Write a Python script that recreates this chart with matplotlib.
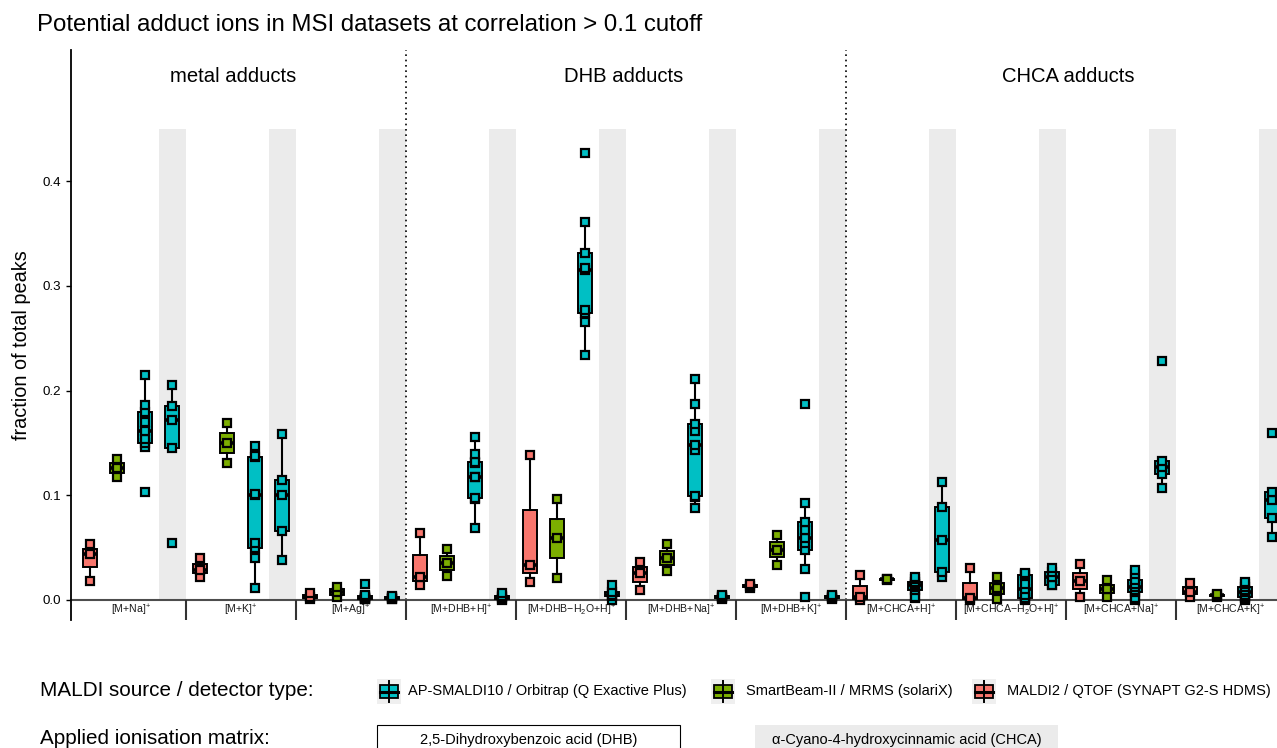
import matplotlib
matplotlib.use("Agg")
import matplotlib.pyplot as plt
from matplotlib.patches import Rectangle
from matplotlib.lines import Line2D
import numpy as np

plt.rcParams['font.family'] = ['Liberation Sans', 'DejaVu Sans']
plt.rcParams['mathtext.fontset'] = 'custom'
plt.rcParams['mathtext.rm'] = 'Liberation Sans'
plt.rcParams['mathtext.it'] = 'Liberation Sans:italic'
plt.rcParams['mathtext.bf'] = 'Liberation Sans:bold'

# ---------------- data ----------------
adducts = [r"[M+Na]$^{+}$", r"[M+K]$^{+}$", r"[M+Ag]$^{+}$",
           r"[M+DHB+H]$^{+}$", r"[M+DHB−H$_{2}$O+H]$^{+}$", r"[M+DHB+Na]$^{+}$", r"[M+DHB+K]$^{+}$",
           r"[M+CHCA+H]$^{+}$", r"[M+CHCA−H$_{2}$O+H]$^{+}$", r"[M+CHCA+Na]$^{+}$", r"[M+CHCA+K]$^{+}$"]
facet_names = ["metal adducts", "DHB adducts", "CHCA adducts"]
facet_sizes = [3, 4, 4]

source_labels = ["AP-SMALDI10 / Orbitrap (Q Exactive Plus)",
                 "SmartBeam-II / MRMS (solariX)",
                 "MALDI2 / QTOF (SYNAPT G2-S HDMS)"]
matrix_labels = ["2,5-Dihydroxybenzoic acid (DHB)", "α-Cyano-4-hydroxycinnamic acid (CHCA)"]

maldi2_dhb = [
    [0.0185, 0.044, 0.0535],
    [0.0223, 0.029, 0.0398],
    [0.001, 0.003, 0.007],
    [0.0143, 0.0223, 0.0637],
    [0.0175, 0.0334, 0.1385],
    [0.0096, 0.0255, 0.0366],
    [0.0115, 0.013, 0.015],
    [0.0, 0.0026, 0.024],
    [0.0, 0.0016, 0.0303],
    [0.0032, 0.0181, 0.0344],
    [0.0026, 0.008, 0.0166],
]
smartbeam_dhb = [
    [0.117, 0.1258, 0.135],
    [0.1305, 0.1497, 0.1694],
    [0.003, 0.0075, 0.0127],
    [0.0229, 0.035, 0.0484],
    [0.0207, 0.0589, 0.0961],
    [0.0277, 0.0398, 0.0535],
    [0.0334, 0.0478, 0.0621],
    [0.019, 0.020, 0.0205],
    [0.0006, 0.0111, 0.0223],
    [0.0032, 0.0102, 0.0191],
    [0.003, 0.0045, 0.0055],
]
apsmaldi_dhb = [
    [0.103, 0.146, 0.1497, 0.154, 0.1617, 0.170, 0.1793, 0.186, 0.215],
    [0.011, 0.040, 0.0494, 0.054, 0.1003, 0.101, 0.1363, 0.137, 0.147],
    [0.0005, 0.001, 0.001, 0.0015, 0.002, 0.003, 0.004, 0.005, 0.0153],
    [0.0685, 0.0961, 0.0971, 0.1172, 0.1178, 0.1305, 0.1321, 0.1394, 0.1554],
    [0.234, 0.265, 0.2738, 0.277, 0.3152, 0.3168, 0.3317, 0.3607, 0.4266],
    [0.0876, 0.0985, 0.0993, 0.1433, 0.148, 0.1617, 0.1678, 0.1869, 0.2108],
    [0.003, 0.0293, 0.0478, 0.0541, 0.0589, 0.0669, 0.0748, 0.093, 0.1869],
    [0.002, 0.003, 0.0096, 0.012, 0.0143, 0.015, 0.0175, 0.020, 0.0223],
    [0.0, 0.0006, 0.0016, 0.005, 0.0102, 0.015, 0.0239, 0.0245, 0.0255],
    [0.0, 0.002, 0.008, 0.010, 0.012, 0.015, 0.019, 0.025, 0.0287],
    [0.0, 0.002, 0.0032, 0.005, 0.008, 0.010, 0.0127, 0.015, 0.0175],
]
apsmaldi_chca = [
    [0.0548, 0.145, 0.172, 0.185, 0.205],
    [0.038, 0.066, 0.100, 0.115, 0.1585],
    [0.0005, 0.001, 0.002, 0.003, 0.004],
    [0.0, 0.001, 0.003, 0.004, 0.007],
    [0.0, 0.004, 0.005, 0.0075, 0.0143],
    [0.001, 0.002, 0.003, 0.004, 0.005],
    [0.001, 0.002, 0.003, 0.0035, 0.005],
    [0.0223, 0.027, 0.0573, 0.0891, 0.1124],
    [0.0143, 0.0143, 0.0223, 0.027, 0.0303],
    [0.1073, 0.1203, 0.1273, 0.1328, 0.2283],
    [0.0599, 0.078, 0.0955, 0.1035, 0.1592],
]

c_ap = "#00BFC4"
c_sb = "#7CAE00"
c_m2 = "#F8766D"
band_gray = "#EBEBEB"

series = [(maldi2_dhb, c_m2), (smartbeam_dhb, c_sb), (apsmaldi_dhb, c_ap), (apsmaldi_chca, c_ap)]

W, H = 1277, 748
fig = plt.figure(figsize=(W / 100, H / 100), dpi=100)

# main axes: pixel mapping x = 76 + 110*xd ; y0 at 600, 1047.5 px per unit
ax_left, ax_right, ax_top, ax_bot = 71, 1277, 50, 620
ax = fig.add_axes([ax_left / W, 1 - ax_bot / H, (ax_right - ax_left) / W, (ax_bot - ax_top) / H])
xmin = (ax_left - 76) / 110
xmax = (ax_right - 76) / 110
ymin = -(ax_bot - 600) / 1047.5
ymax = (600 - ax_top) / 1047.5
ax.set_xlim(xmin, xmax)
ax.set_ylim(ymin, ymax)

n = len(adducts)
# gray bands for CHCA slot
for i in range(n):
    ax.add_patch(Rectangle((i + 0.75, 0), 0.25, 0.45, facecolor=band_gray, edgecolor='none', zorder=0))

for j, (data, col) in enumerate(series):
    pos = [i + (j + 0.5) / 4 for i in range(n)]
    bp = ax.boxplot(data, positions=pos, widths=0.125, patch_artist=True, showfliers=False,
                    showcaps=False, whis=1.5, manage_ticks=False,
                    boxprops=dict(facecolor=col, edgecolor='black', linewidth=1.4),
                    whiskerprops=dict(color='black', linewidth=1.5),
                    medianprops=dict(color='black', linewidth=2.6, solid_capstyle='butt'),
                    zorder=3)
    for i, vals in enumerate(data):
        ax.plot([pos[i]] * len(vals), vals, linestyle='none', marker='s', markersize=5.2,
                markerfacecolor=col, markeredgecolor='black', markeredgewidth=1.6, zorder=4)

# axis baseline and separators
ax.plot([xmin, xmax], [0, 0], color='#4D4D4D', lw=1.5, zorder=2, clip_on=False)
ax.vlines(np.arange(1, n), ymin, 0, color='#333333', lw=1.5, zorder=2)
ax.vlines([3, 7], 0, ymax, color='black', lw=1.2, linestyles=(0, (1, 2.2)), zorder=1)

for i, lab in enumerate(adducts):
    ax.text(i + 0.5, -0.0098, lab, ha='center', va='center', fontsize=7.6, color='#1A1A1A')

facet_centers = [1.43, 4.98, 9.02]
for name, xc in zip(facet_names, facet_centers):
    ax.text(xc, 0.500, name, ha='center', va='center', fontsize=14.6)

for s in ['top', 'right', 'bottom']:
    ax.spines[s].set_visible(False)
ax.spines['left'].set_linewidth(1.3)
ax.set_xticks([])
ax.set_yticks([0, 0.1, 0.2, 0.3, 0.4])
ax.set_yticklabels(["0.0", "0.1", "0.2", "0.3", "0.4"])
ax.tick_params(axis='y', length=3.8, width=1, labelsize=9.6, colors='black', pad=3.5)

# titles
fig.text(37 / W, 1 - 25 / H, "Potential adduct ions in MSI datasets at correlation > 0.1 cutoff",
         ha='left', va='center', fontsize=17.3)
fig.text(22 / W, 1 - 345 / H, "fraction of total peaks", rotation=90, ha='center', va='center', fontsize=14.3)

# legend overlay in pixel coordinates
lg = fig.add_axes([0, 0, 1, 1], zorder=-1)
lg.set_xlim(0, W)
lg.set_ylim(H, 0)
lg.axis('off')
lg.patch.set_alpha(0)

lg.text(40, 691, "MALDI source / detector type:", ha='left', va='center', fontsize=14.9)
key_x = [377, 711, 972]
txt_x = [408, 746, 1007]
key_cols = [c_ap, c_sb, c_m2]
for kx, tx, col, lab in zip(key_x, txt_x, key_cols, source_labels):
    lg.add_patch(Rectangle((kx, 679), 24, 25, facecolor='#EFEFEF', edgecolor='none'))
    lg.add_line(Line2D([kx + 12, kx + 12], [681, 702], color='black', lw=1.4))
    lg.add_patch(Rectangle((kx + 3, 685), 18, 13, facecolor=col, edgecolor='black', lw=1.3))
    lg.add_line(Line2D([kx + 3, kx + 21], [691.5, 691.5], color='black', lw=2.2))
    lg.text(tx, 691, lab, ha='left', va='center', fontsize=10.5)

lg.text(40, 738, "Applied ionisation matrix:", ha='left', va='center', fontsize=14.9)
lg.add_patch(Rectangle((377, 725), 303, 40, facecolor='white', edgecolor='black', lw=0.8))
lg.text(528.5, 740, matrix_labels[0], ha='center', va='center', fontsize=10.5)
lg.add_patch(Rectangle((755, 725), 303, 40, facecolor=band_gray, edgecolor='none'))
lg.text(906.5, 740, matrix_labels[1], ha='center', va='center', fontsize=10.5)

fig.savefig("out.png", dpi=100)
